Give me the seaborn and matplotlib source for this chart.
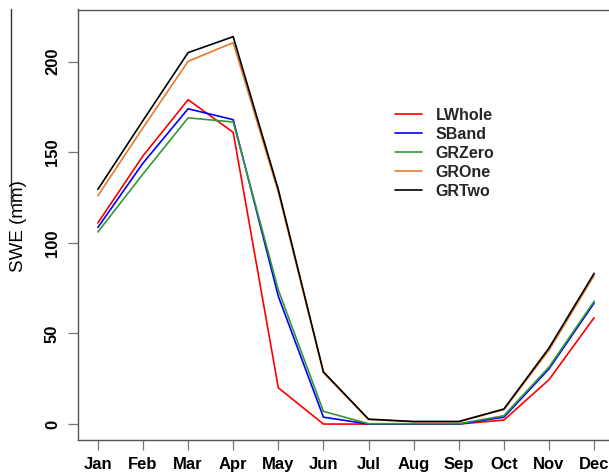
import matplotlib
matplotlib.use("Agg")
import matplotlib.pyplot as plt
from matplotlib.lines import Line2D
import seaborn as sns
import pandas as pd

# Monthly snow water equivalent (mm) for each model configuration
months = ["Jan", "Feb", "Mar", "Apr", "May", "Jun",
          "Jul", "Aug", "Sep", "Oct", "Nov", "Dec"]
lwhole = [111, 148, 179, 161, 20, 0, 0, 0, 0, 2.2, 24.5, 58.7]
sband = [108.5, 144, 174, 168, 70.5, 3.8, 0, 0, 0, 3.8, 30.5, 66.8]
grzero = [106, 138, 169, 166.7, 74, 7, 0.2, 0.2, 0.2, 4.6, 31.5, 67.8]
grone = [126, 163.5, 200.2, 210.5, 128, 28.3, 2.5, 1.3, 1.3, 8, 40.8, 82]
grtwo = [129.5, 167.5, 205, 213.8, 129.4, 28.8, 2.7, 1.4, 1.4, 8.3, 42, 83.2]

series = ["LWhole", "SBand", "GRZero", "GROne", "GRTwo"]
values = [lwhole, sband, grzero, grone, grtwo]
colors = ["#FF0000", "#0000FF", "#339933", "#E8792B", "#000000"]

df = pd.DataFrame({
    "month": months * len(series),
    "idx": list(range(len(months))) * len(series),
    "model": [s for s in series for _ in months],
    "swe": [v for vals in values for v in vals],
})

sns.set_style("ticks")
plt.rcParams["font.family"] = ["Liberation Sans", "DejaVu Sans"]

fig = plt.figure(figsize=(6.09, 4.72), dpi=100)
ax = fig.add_axes([78 / 609, 1 - 440 / 472, 536 / 609, 430.5 / 472])

sns.lineplot(data=df, x="idx", y="swe", hue="model", hue_order=series,
             palette=colors, linewidth=1.2, ax=ax, legend=False)

ax.set_xlim(-0.44, 11.44)
ax.set_ylim(-8.8, 228.8)
ax.set_xticks(range(len(months)))
ax.set_xticklabels(months, fontweight="bold", fontsize=12)
ax.set_yticks([0, 50, 100, 150, 200])
ax.set_yticklabels(["0", "50", "100", "150", "200"],
                   fontweight="bold", fontsize=12, rotation=90)
for lab in ax.get_yticklabels():
    lab.set_va("center")

ax.set_xlabel("")
ax.set_ylabel("")
fig.text(19 / 609, 1 - 226 / 472, "SWE (mm)", rotation=90,
         ha="center", va="center", fontsize=13.5, color="black")

for sp in ax.spines.values():
    sp.set_color("#555555")
    sp.set_linewidth(1.0)
ax.tick_params(axis="both", length=7.5, width=0.9, color="#777777",
               labelcolor="black", pad=5)
ax.tick_params(axis="y", pad=5.5)

handles = [Line2D([], [], color=c, linewidth=1.2) for c in colors]
ax.legend(handles, series, loc="upper left",
          bbox_to_anchor=(395 / 609, 1 - 108 / 472),
          bbox_transform=fig.transFigure, frameon=False,
          prop={"weight": "bold", "size": 11.5},
          handlelength=1.7, handletextpad=0.85, labelspacing=0.25,
          borderpad=0, borderaxespad=0)

# thin vertical rule at the far left of the figure
fig.add_artist(Line2D([11 / 609, 11 / 609], [1 - 9 / 472, 1 - 205 / 472],
                      transform=fig.transFigure, color="#333333",
                      linewidth=1.0))

fig.savefig("out.png", dpi=100)
